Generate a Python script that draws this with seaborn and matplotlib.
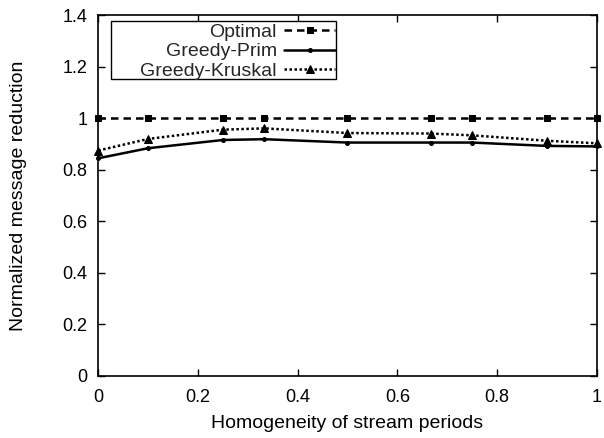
import matplotlib
matplotlib.use("Agg")
import matplotlib.pyplot as plt
from matplotlib.patches import Rectangle
import seaborn as sns
import pandas as pd

homogeneity = [0.0, 0.1, 0.25, 0.333, 0.5, 0.667, 0.75, 0.9, 1.0]
optimal = [1.0, 1.0, 1.0, 1.0, 1.0, 1.0, 1.0, 1.0, 1.0]
greedy_prim = [0.844, 0.883, 0.915, 0.918, 0.905, 0.905, 0.905, 0.892, 0.89]
greedy_kruskal = [0.874, 0.919, 0.955, 0.96, 0.942, 0.94, 0.933, 0.912, 0.902]

sns.set_theme(style="ticks")
plt.rcParams["font.family"] = ["Liberation Sans", "DejaVu Sans"]

fig = plt.figure(figsize=(6.04, 4.38), dpi=100)
ax = fig.add_axes([0.1627, 0.1422, 0.8252, 0.8235])

df = pd.DataFrame({"x": homogeneity, "Optimal": optimal,
                   "Greedy-Prim": greedy_prim, "Greedy-Kruskal": greedy_kruskal})

sns.lineplot(data=df, x="x", y="Optimal", ax=ax, color="black", lw=1.8,
             linestyle=(0, (3, 2)), marker="s", markersize=5,
             markeredgecolor="black", label="Optimal", clip_on=False)
sns.lineplot(data=df, x="x", y="Greedy-Prim", ax=ax, color="black", lw=1.8,
             marker="o", markersize=2.8, markeredgecolor="black",
             label="Greedy-Prim", clip_on=False)
sns.lineplot(data=df, x="x", y="Greedy-Kruskal", ax=ax, color="black", lw=1.8,
             linestyle=(0, (1, 1)), marker="^", markersize=5.5,
             markeredgecolor="black", label="Greedy-Kruskal", clip_on=False)

ax.set_xlim(0, 1)
ax.set_ylim(0, 1.4)
ax.set_xticks([0, 0.2, 0.4, 0.6, 0.8, 1.0])
ax.set_xticklabels(["0", "0.2", "0.4", "0.6", "0.8", "1"])
ax.set_yticks([0, 0.2, 0.4, 0.6, 0.8, 1.0, 1.2, 1.4])
ax.set_yticklabels(["0", "0.2", "0.4", "0.6", "0.8", "1", "1.2", "1.4"])
ax.tick_params(direction="in", top=True, right=True, length=5, width=1,
               labelsize=13, colors="black")
ax.tick_params(axis="y", pad=8)
ax.tick_params(axis="x", pad=9.5)
for s in ax.spines.values():
    s.set_color("black")
    s.set_linewidth(1.2)

ax.set_xlabel("Homogeneity of stream periods", fontsize=14, color="black")
ax.set_ylabel("Normalized message reduction", fontsize=14, color="black")
ax.xaxis.set_label_coords(0.5, -0.108)
ax.yaxis.set_label_coords(-0.142, 0.5)

# legend box with fixed extent, labels right-aligned against the samples
box_x0, box_x1, box_y0, box_y1 = 0.0249, 0.477, 0.8226, 0.984
ax.add_patch(Rectangle((box_x0, box_y0), box_x1 - box_x0, box_y1 - box_y0,
                       transform=ax.transAxes, fill=True, facecolor="white",
                       edgecolor="black", lw=1.0, zorder=4))
leg = ax.legend(loc="upper right", bbox_to_anchor=(box_x1, box_y1 - 0.004),
                markerfirst=False, frameon=False, fontsize=14,
                handlelength=2.6, borderpad=0.05, labelspacing=0.1,
                handletextpad=0.4, borderaxespad=0)
leg.set_zorder(5)
for t in leg.get_texts():
    t.set_ha("right")
leg._legend_box.align = "right"

fig.savefig("out.png", dpi=100)
